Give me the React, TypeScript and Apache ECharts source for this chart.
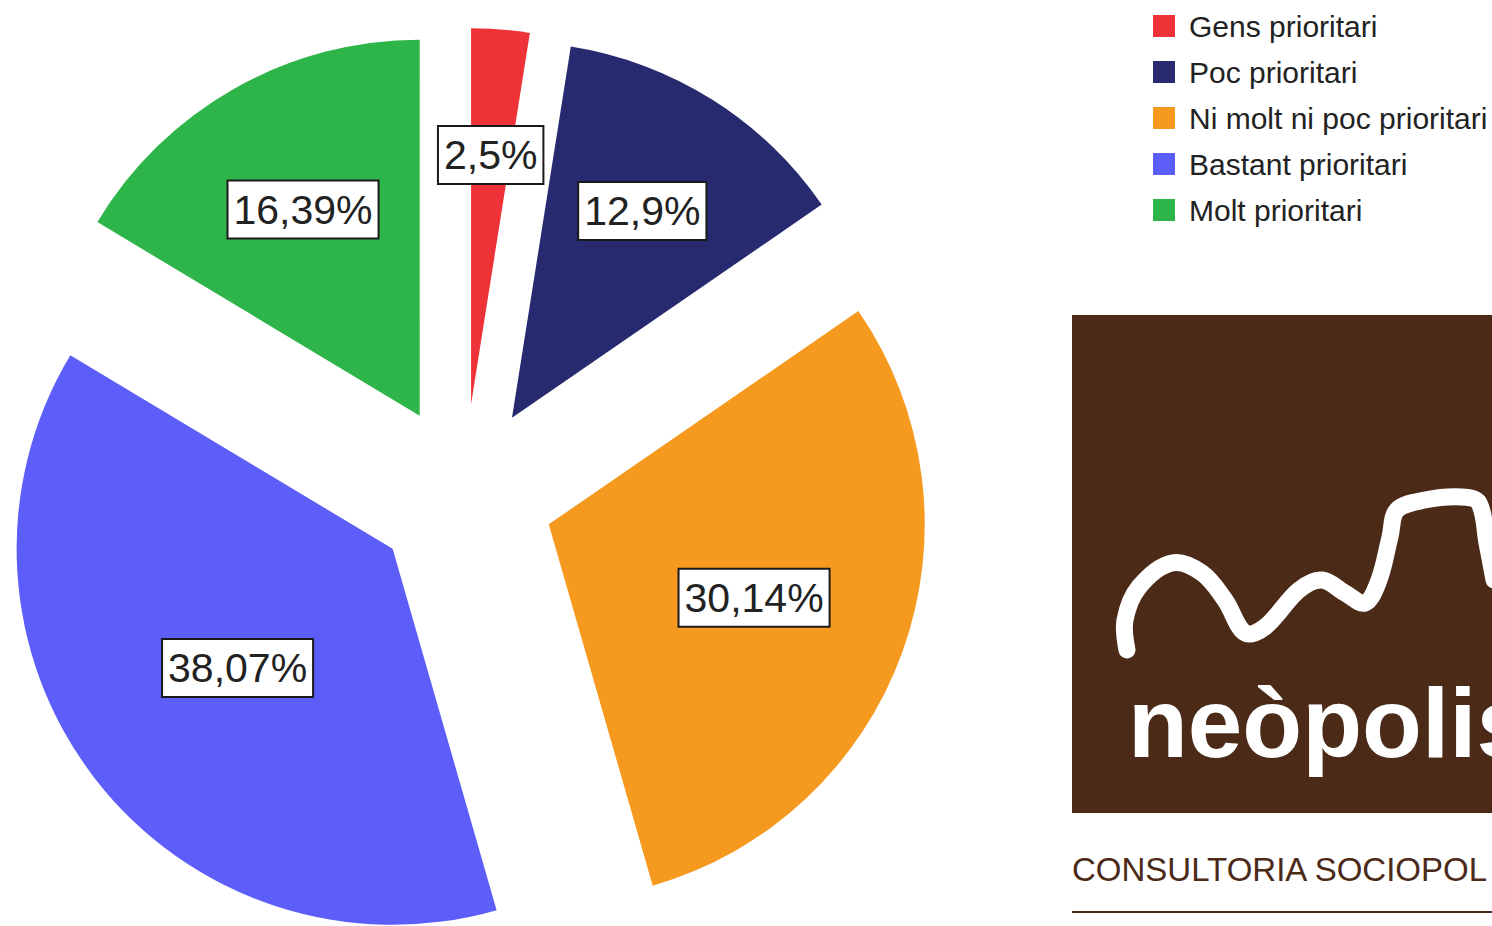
import React, { useEffect, useRef } from "react";
import * as echarts from "echarts";

const categories = ["Gens prioritari", "Poc prioritari", "Ni molt ni poc prioritari", "Bastant prioritari", "Molt prioritari"];
const values = [2.5, 12.9, 30.14, 38.07, 16.39];
const colors = ["#EE3338", "#272A6E", "#F69A1F", "#5D5DFA", "#2EB549"];
// label distance from slice apex, as a fraction of the radius (style)
const labelRadius = [0.665, 0.65, 0.58, 0.52, 0.63];

const brandName = "neòpolis";
const brandTagline = "CONSULTORIA SOCIOPOL";
const scribble: number[][] = [
  [1127, 650], [1125, 620], [1139, 587], [1172, 563], [1202, 573], [1225, 600], [1245, 633],
  [1265, 627], [1299, 590], [1322, 580], [1345, 593], [1365, 603], [1379, 580], [1390, 537],
  [1397, 510], [1425, 500], [1462, 497], [1479, 503], [1487, 543], [1494, 580],
];

const CX = 464;
const CY = 494;
const R = 376;
const OFFSET = 90;
const SANS = "'Liberation Sans', Arial, Helvetica, sans-serif";
const BROWN = "#4B2A17";

export default function App() {
  const ref = useRef<HTMLDivElement>(null);
  useEffect(() => {
    if (!ref.current) return;
    const chart = echarts.init(ref.current, null, { renderer: "svg" });
    const total = values.reduce((a, b) => a + b, 0);
    let cum = 0;
    const labelPos: number[][] = [];
    values.forEach((v, i) => {
      const mid = ((cum + v / 2) / total) * 2 * Math.PI;
      cum += v;
      const d = OFFSET + labelRadius[i] * R;
      labelPos.push([CX + d * Math.sin(mid), CY - d * Math.cos(mid)]);
    });
    const sliceData = values.map((v, i) => ({
      name: categories[i],
      value: v,
      selected: true,
      itemStyle: { color: colors[i] },
    }));
    const labelData = values.map((v, i) => ({ name: categories[i], value: v }));
    chart.setOption({
      animation: false,
      backgroundColor: "#ffffff",
      legend: {
        orient: "vertical",
        left: 1148,
        top: 6,
        icon: "rect",
        itemWidth: 22,
        itemHeight: 22,
        itemGap: 16,
        selectedMode: false,
        data: categories.map((c, i) => ({ name: c, itemStyle: { color: colors[i] } })),
        textStyle: { fontSize: 30, lineHeight: 30, color: "#222", fontFamily: SANS, padding: [0, 0, 0, 9] },
      },
      series: [
        {
          type: "pie",
          name: "slices",
          center: [CX, CY],
          radius: R,
          startAngle: 90,
          clockwise: true,
          selectedMode: "multiple",
          selectedOffset: OFFSET,
          emphasis: { disabled: true },
          itemStyle: { borderWidth: 0 },
          label: { show: false },
          labelLine: { show: false },
          data: sliceData,
        },
        {
          type: "pie",
          name: "labels",
          z: 5,
          silent: true,
          center: [CX, CY],
          radius: R,
          startAngle: 90,
          clockwise: true,
          avoidLabelOverlap: false,
          emphasis: { disabled: true },
          itemStyle: { color: "rgba(0,0,0,0)", borderWidth: 0 },
          label: {
            show: true,
            position: "inside",
            formatter: (p: any) => String(p.value).replace(".", ",") + "%",
            fontSize: 41,
            lineHeight: 44,
            fontFamily: SANS,
            color: "#222",
            backgroundColor: "#ffffff",
            borderColor: "#1a1a1a",
            borderWidth: 2,
            padding: [6, 5],
          },
          labelLine: { show: false },
          labelLayout: (params: any) => {
            const p = labelPos[params.dataIndex];
            return { x: p[0], y: p[1], align: "center", verticalAlign: "middle" };
          },
          data: labelData,
        },
      ],
      graphic: [
        { type: "rect", shape: { x: 1072, y: 315, width: 440, height: 498 }, style: { fill: BROWN } },
        {
          type: "polyline",
          shape: { points: scribble, smooth: 0.35 },
          style: { stroke: "#ffffff", lineWidth: 17, fill: "none", lineCap: "round", lineJoin: "round" },
        },
        {
          type: "text",
          x: 1128,
          y: 723,
          style: {
            text: brandName,
            fill: "#ffffff",
            font: `bold 98px ${SANS}`,
            verticalAlign: "middle",
            align: "left",
          },
        },
        {
          type: "text",
          x: 1072,
          y: 869,
          style: {
            text: brandTagline,
            fill: BROWN,
            font: `33px ${SANS}`,
            verticalAlign: "middle",
            align: "left",
          },
        },
        { type: "line", shape: { x1: 1072, y1: 912, x2: 1492, y2: 912 }, style: { stroke: BROWN, lineWidth: 2 } },
      ],
    });
    return () => chart.dispose();
  }, []);
  return <div ref={ref} style={{ position: "absolute", left: 0, top: 0, width: 1492, height: 926 }} />;
}
